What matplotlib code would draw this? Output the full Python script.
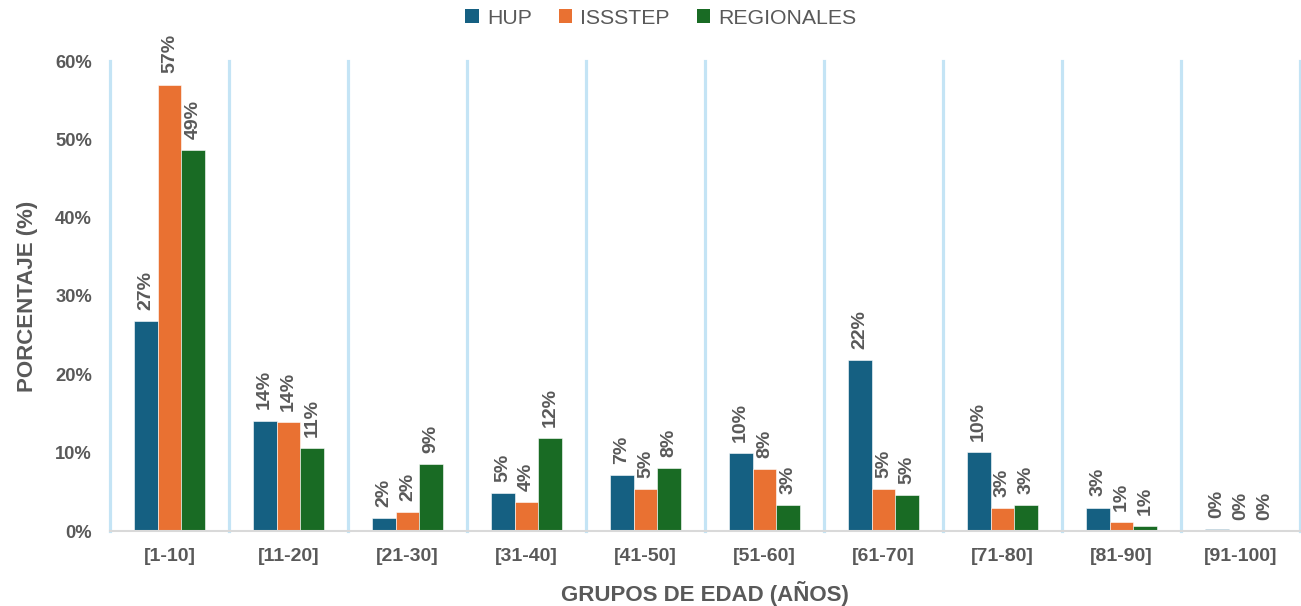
import matplotlib
matplotlib.use("Agg")
import matplotlib.pyplot as plt
import numpy as np
from matplotlib.patches import Patch

# Age groups and share of patients per institution (fractions)
categories = ["[1-10]", "[11-20]", "[21-30]", "[31-40]", "[41-50]",
              "[51-60]", "[61-70]", "[71-80]", "[81-90]", "[91-100]"]
hup = [0.268, 0.141, 0.017, 0.049, 0.071, 0.099, 0.218, 0.101, 0.030, 0.002]
issstep = [0.570, 0.139, 0.024, 0.037, 0.053, 0.079, 0.054, 0.029, 0.011, 0.0]
regionales = [0.486, 0.106, 0.086, 0.119, 0.080, 0.033, 0.046, 0.033, 0.006, 0.0]
series_names = ["HUP", "ISSSTEP", "REGIONALES"]
y_ticks = [0.0, 0.1, 0.2, 0.3, 0.4, 0.5, 0.6]

colors = ["#156082", "#E97132", "#196B24"]
text_color = "#595959"
grid_color = "#C4E4F5"

plt.rcParams["font.family"] = ["Liberation Sans", "DejaVu Sans"]

fig = plt.figure(figsize=(13.01, 6.06), dpi=100)
ax = fig.add_axes([110 / 1301, 1 - 531 / 606, 1190 / 1301, 470 / 606])

x = np.arange(len(categories))
width = 0.2
for i, (name, vals, col) in enumerate(zip(series_names, [hup, issstep, regionales], colors)):
    pos = x + (i - 1) * width
    bars = ax.bar(pos, vals, width, color=col, edgecolor="#ffffff", linewidth=0.4, zorder=3)
    for b, v in zip(bars, vals):
        ax.annotate(f"{v * 100:.0f}%",
                    xy=(b.get_x() + b.get_width() / 2, b.get_height()),
                    xytext=(0, 8), textcoords="offset points",
                    rotation=90, ha="center", va="bottom",
                    fontsize=14, fontweight="bold", color=text_color)

ax.set_xlim(-0.5, len(categories) - 0.5)
ax.set_ylim(0, 0.6)

# Vertical separators between age groups
for bnd in np.arange(-0.5, len(categories), 1.0):
    ax.axvline(bnd, color=grid_color, linewidth=2.3, zorder=1, clip_on=False,
               ymin=0, ymax=1)

ax.set_yticks(y_ticks)
ax.set_yticklabels([f"{t * 100:.0f}%" for t in y_ticks])
ax.set_xticks(x)
ax.set_xticklabels(categories)
ax.tick_params(axis="y", length=0, labelsize=13.2, colors=text_color, pad=13)
ax.tick_params(axis="x", length=0, labelsize=14, colors=text_color, pad=12)
for lbl in ax.get_xticklabels() + ax.get_yticklabels():
    lbl.set_fontweight("bold")

for s in ["top", "right", "left"]:
    ax.spines[s].set_visible(False)
ax.spines["bottom"].set_color("#D9D9D9")
ax.spines["bottom"].set_linewidth(1.5)
ax.spines["bottom"].set_zorder(4)

ax.set_xlabel("GRUPOS DE EDAD (AÑOS)", fontsize=16, fontweight="bold",
              color=text_color, labelpad=12)
ax.set_ylabel("PORCENTAJE (%)", fontsize=16, fontweight="bold",
              color=text_color, labelpad=12)

handles = [Patch(facecolor=c, edgecolor="none") for c in colors]
fig.legend(handles, series_names, loc="center", bbox_to_anchor=(0.508, 1 - 18 / 606),
           ncol=3, frameon=False, fontsize=15.3, handlelength=0.65, handleheight=0.65,
           handletextpad=0.38, columnspacing=1.25, labelcolor=text_color)

fig.savefig("out.png", dpi=100)
